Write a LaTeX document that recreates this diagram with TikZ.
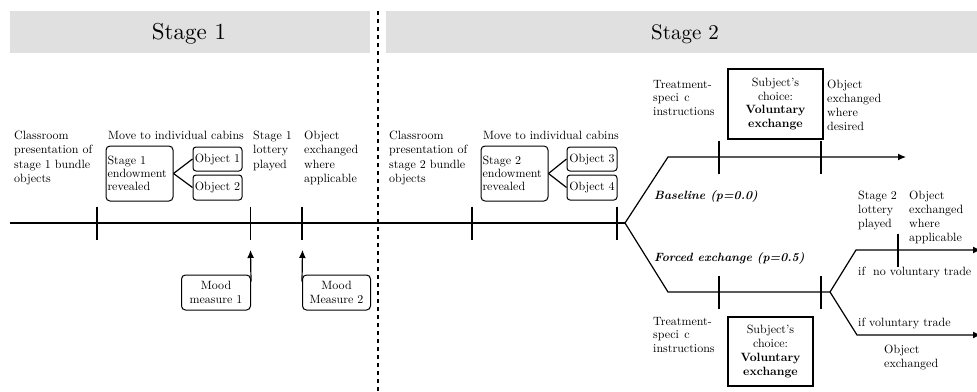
\documentclass[tikz,border=0pt]{standalone}
\usepackage{fontspec}
\setmainfont{lmroman10-regular}[Extension=.otf, BoldFont=lmroman10-bold, ItalicFont=lmroman10-italic, BoldItalicFont=lmroman10-bolditalic]
\usetikzlibrary{arrows.meta}
\begin{document}
\begin{tikzpicture}[x=1pt,y=-1pt,
  every node/.style={font=\fontsize{12}{14.5}\selectfont, inner sep=0pt},
  line/.style={line width=1.2pt},
  txt/.style={anchor=north west, align=left},
  rbox/.style={draw, line width=1pt, rounded corners=4pt},
  choicebox/.style={draw, line width=1.5pt, align=center, font=\fontsize{12}{13.7}\selectfont},
  arr/.style={-{Latex[length=8pt,width=7pt]}}]
\useasboundingbox (0,0) rectangle (977,391);

% title bars
\fill[black!12] (10,11) rectangle (370,53);
\fill[black!12] (386,11) rectangle (980,53);
\node[font=\fontsize{23}{26}\selectfont] (st1) at (189,34) {Stage 1};
\node[font=\fontsize{21}{24}\selectfont] (st2) at (685,34) {Stage 2};

% divider
\draw[line width=1.3pt, dash pattern=on 4pt off 4pt] (378,11) -- (378,393);

% main timeline coordinates
\coordinate (L0) at (10,223);
\coordinate (T1) at (97,223);
\coordinate (T2) at (250.5,223);
\coordinate (T3) at (302,223);
\coordinate (T4) at (472,223);
\coordinate (T5) at (617,223);
\coordinate (B) at (625,223);
\coordinate (U1) at (668,157);
\coordinate (UE) at (906,157);
\coordinate (UT1) at (719,157);
\coordinate (UT2) at (821,157);
\coordinate (D1) at (668,292);
\coordinate (D2) at (830,292);
\coordinate (DT1) at (719,292);
\coordinate (DT2) at (821,292);
\coordinate (E1) at (856,250);
\coordinate (E1E) at (981,250);
\coordinate (ET) at (898,250);
\coordinate (F1) at (857,335);
\coordinate (F1E) at (981,335);

\draw[line] (L0) -- (B);
\draw[line,arr] (B) -- (U1) -- (UE);
\draw[line] (B) -- (D1) -- (D2);
\draw[line,arr] (D2) -- (E1) -- (E1E);
\draw[line,arr] (D2) -- (F1) -- (F1E);

\foreach \t in {T1,T2,T3,T4,T5,UT1,UT2,DT1,DT2,ET}
  \draw[line] (\t) ++(0,-16.5) -- ++(0,33);

% stage 1 texts
\node[txt] (c1) at (14,130.7) {Classroom\\presentation of\\stage 1 bundle\\objects};
\node[txt] (mv1) at (108,130.7) {Move to individual cabins};
\node[txt] (lot1) at (253,130.7) {Stage 1\\lottery\\played};
\node[txt] (ex1) at (304,130.7) {Object\\exchanged\\where\\applicable};

\node[rbox, minimum width=67pt, minimum height=55pt, text width=64pt, align=left,
  font=\fontsize{12}{12.8}\selectfont] (s1) at (139.5,173.5) {Stage 1\\endowment\\revealed};
\node[rbox, rounded corners=3pt, minimum width=49pt, minimum height=24pt] (o1) at (217.5,159) {Object 1};
\node[rbox, rounded corners=3pt, minimum width=49pt, minimum height=25pt] (o2) at (217.5,187.5) {Object 2};
\draw[line] (s1.east) -- (o1.west);
\draw[line] (s1.east) -- (o2.west);

% mood measures
\node[rbox, minimum width=69pt, minimum height=35pt, align=center,
  font=\fontsize{12}{13.5}\selectfont] (m1) at (216,292.5) {Mood\\measure 1};
\node[rbox, minimum width=68pt, minimum height=35pt, align=center,
  font=\fontsize{12}{13.5}\selectfont] (m2) at (336.5,292.5) {Mood\\Measure 2};
\coordinate (m1tip) at (250.5,250);
\coordinate (m2tip) at (302.5,250);
\draw[line,arr] ([yshift=-7pt]m1.north east) -- (m1tip);
\draw[line,arr] ([yshift=-7pt]m2.north west) -- (m2tip);

% stage 2 texts
\node[txt] (c2) at (389,130.7) {Classroom\\presentation of\\stage 2 bundle\\objects};
\node[txt] (mv2) at (483,130.7) {Move to individual cabins};
\node[rbox, minimum width=67pt, minimum height=55pt, text width=64pt, align=left,
  font=\fontsize{12}{12.8}\selectfont] (s2) at (514.5,173.5) {Stage 2\\endowment\\revealed};
\node[rbox, rounded corners=3pt, minimum width=50pt, minimum height=24pt] (o3) at (592,159) {Object 3};
\node[rbox, rounded corners=3pt, minimum width=50pt, minimum height=25pt] (o4) at (592,187.5) {Object 4};
\draw[line] (s2.east) -- (o3.west);
\draw[line] (s2.east) -- (o4.west);

% upper branch
\node[txt, font=\fontsize{12}{13.7}\selectfont] (tr1) at (653,79.8) {Treatment-\\speci\hspace{0.45em}c\\instructions};
\node[choicebox, minimum width=95pt, minimum height=70pt] (ch1) at (775.5,104) {Subject's\\choice:\\\textbf{Voluntary}\\\textbf{exchange}};
\node[txt, font=\fontsize{12}{13.9}\selectfont] (exd) at (827,79.8) {Object\\exchanged\\where\\desired};
\node[anchor=base west, font=\fontsize{12}{14}\bfseries\itshape] (bl) at (654,199) {Baseline (p=0.0)};

% lower branch
\node[anchor=base west, font=\fontsize{12}{14}\bfseries\itshape] (fe) at (654,261) {Forced exchange (p=0.5)};
\node[txt, font=\fontsize{12}{13.9}\selectfont] (lot2) at (858,190.7) {Stage 2\\lottery\\played};
\node[txt, font=\fontsize{12}{13.9}\selectfont] (ex2) at (909,190.7) {Object\\exchanged\\where\\applicable};
\node[anchor=base west] (nv) at (858,275) {if\ \ no voluntary trade};
\node[anchor=base west] (vt) at (858,326) {if voluntary trade};
\node[txt, font=\fontsize{12}{14.5}\selectfont] (oe) at (884,344.7) {Object\\exchanged};
\node[txt, font=\fontsize{12}{13.7}\selectfont] (tr2) at (653,316.8) {Treatment-\\speci\hspace{0.45em}c\\instructions};
\node[choicebox, minimum width=85pt, minimum height=69pt] (ch2) at (770.5,351.5) {Subject's\\choice:\\\textbf{Voluntary}\\\textbf{exchange}};
\end{tikzpicture}
\end{document}
